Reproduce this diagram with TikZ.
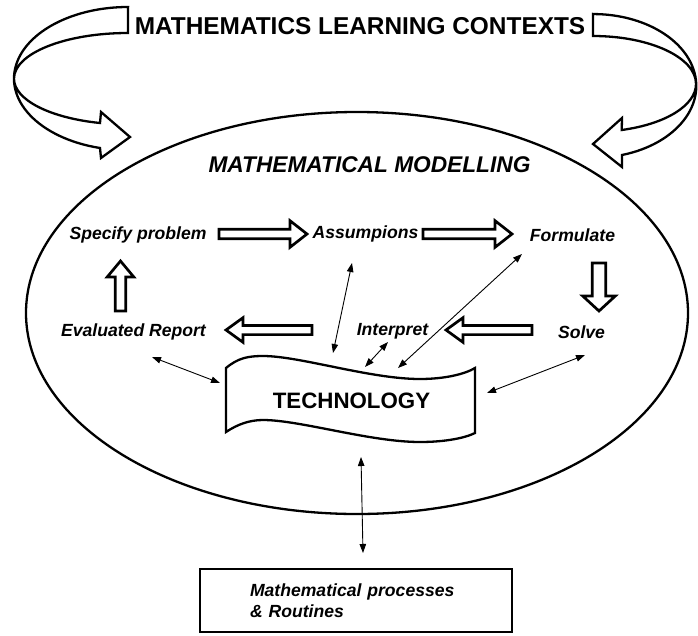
\documentclass[tikz,border=0pt]{standalone}
\usepackage{fontspec}
\setmainfont{Liberation Sans}
\usetikzlibrary{calc,arrows.meta,shapes.geometric}
\tikzset{
  lbl/.style={font=\fontsize{17.6}{20}\selectfont\bfseries\itshape, inner sep=0pt, anchor=base},
  thickline/.style={line width=2.3pt},
  blockline/.style={draw, line width=2.7pt, line join=miter, fill=white},
  curvy/.style={draw, line width=2.3pt, line join=miter, fill=white},
  dbl/.style={line width=0.9pt, {Triangle[length=9pt,width=6.5pt]}-{Triangle[length=9pt,width=6.5pt]}},
}
% #1 start, #2 tip, #3 shaft half width, #4 head half width, #5 head length
\newcommand\blkarrow[5]{%
  \coordinate (bkh) at ($(#2)!#5!(#1)$);
  \draw[blockline] ($(#1)!#3!90:(#2)$) -- ($(bkh)!#3!90:(#2)$) -- ($(bkh)!#4!90:(#2)$) -- (#2)
    -- ($(bkh)!#4!-90:(#2)$) -- ($(bkh)!#3!-90:(#2)$) -- ($(#1)!#3!-90:(#2)$) -- cycle;}
\begin{document}
\begin{tikzpicture}[x=1pt,y=-1pt]
\useasboundingbox (0,0) rectangle (698,635);
\fill[white] (0,0) rectangle (698,635);

% outer ellipse
\node[draw, ellipse, thickline, minimum width=662pt, minimum height=402pt, inner sep=0pt] (model) at (357,313) {};

% title and curved arrows
\node[font=\fontsize{24.4}{28}\selectfont\bfseries, inner sep=0pt, anchor=base] (title) at (360,34) {MATHEMATICS LEARNING CONTEXTS};
\draw[curvy] (128,7) -- (128,33) arc[start angle=270, end angle=104.22, x radius=114, y radius=45.7]
  -- (101,112) -- (130,137) -- (101,158) -- (100,148)
  arc[start angle=104.22, end angle=270, x radius=114, y radius=71.6] -- cycle;
\draw[curvy] (593,14) -- (593,36) arc[start angle=270, end angle=433.8, x radius=103, y radius=47.95]
  -- (622,118) -- (593,144) -- (622,167) -- (622,155)
  arc[start angle=433.8, end angle=270, x radius=103, y radius=71.9] -- cycle;

\node[font=\fontsize{22.7}{26}\selectfont\bfseries\itshape, inner sep=0pt, anchor=base] (mm) at (369.5,172) {MATHEMATICAL MODELLING};

% stage labels
\node[lbl] (spec)   at (138,239)   {Specify problem};
\node[lbl] (assum)  at (365.5,238) {Assumpions};
\node[lbl] (form)   at (572.5,241) {Formulate};
\node[lbl] (eval)   at (133.5,336) {Evaluated Report};
\node[lbl] (interp) at (392.5,335) {Interpret};
\node[lbl] (solve)  at (581.5,338) {Solve};

% block arrows
\coordinate (b1s) at (219,234);  \coordinate (b1e) at (307,234);
\coordinate (b2s) at (423,234);  \coordinate (b2e) at (512,234);
\coordinate (b3s) at (599,263);  \coordinate (b3e) at (599,311);
\coordinate (b4s) at (120.5,311);\coordinate (b4e) at (120.5,261);
\coordinate (b5s) at (312,330);  \coordinate (b5e) at (226,330);
\coordinate (b6s) at (532,330);  \coordinate (b6e) at (446,330);
\blkarrow{b1s}{b1e}{4.8pt}{13.3pt}{17pt}
\blkarrow{b2s}{b2e}{4.8pt}{13.3pt}{17pt}
\blkarrow{b3s}{b3e}{6.8pt}{16.3pt}{15pt}
\blkarrow{b4s}{b4e}{5.3pt}{13.3pt}{16pt}
\blkarrow{b5s}{b5e}{4.6pt}{12.3pt}{17pt}
\blkarrow{b6s}{b6e}{4.6pt}{12.3pt}{17pt}

% technology tape
\draw[thickline, fill=white] (226,368) .. controls (238,358) and (248,356) .. (263,356)
  .. controls (300,356) and (370,379) .. (420,379)
  .. controls (445,379) and (465,374) .. (475,368)
  -- (475,433)
  .. controls (465,438) and (445,442) .. (420,442)
  .. controls (370,442) and (300,420) .. (263,420)
  .. controls (250,420) and (238,424) .. (226,432) -- cycle;
\node[font=\fontsize{22.3}{26}\selectfont\bfseries, inner sep=0pt, anchor=base] (tech) at (351.5,408) {TECHNOLOGY};

% bottom box
\node[draw, line width=2.5pt, minimum width=312pt, minimum height=63pt, inner xsep=50pt, text width=212pt, align=left,
      font=\fontsize{17.6}{21}\selectfont\bfseries\itshape] (proc) at (356,600.5) {Mathematical processes\\\& Routines};

% thin double arrows
\coordinate (t1a) at (352,263); \coordinate (t1b) at (333,353);
\coordinate (t2a) at (388,342); \coordinate (t2b) at (365,367);
\coordinate (t3a) at (522,254); \coordinate (t3b) at (398,368);
\coordinate (t4a) at (152,357); \coordinate (t4b) at (220,383);
\coordinate (t5a) at (585,355); \coordinate (t5b) at (487,393);
\coordinate (t6a) at (361,457); \coordinate (t6b) at (363,553);
\draw[dbl] (t1a) -- (t1b);
\draw[dbl] (t2a) -- (t2b);
\draw[dbl] (t3a) -- (t3b);
\draw[dbl] (t4a) -- (t4b);
\draw[dbl] (t5a) -- (t5b);
\draw[dbl] (t6a) -- (t6b);
\end{tikzpicture}
\end{document}
